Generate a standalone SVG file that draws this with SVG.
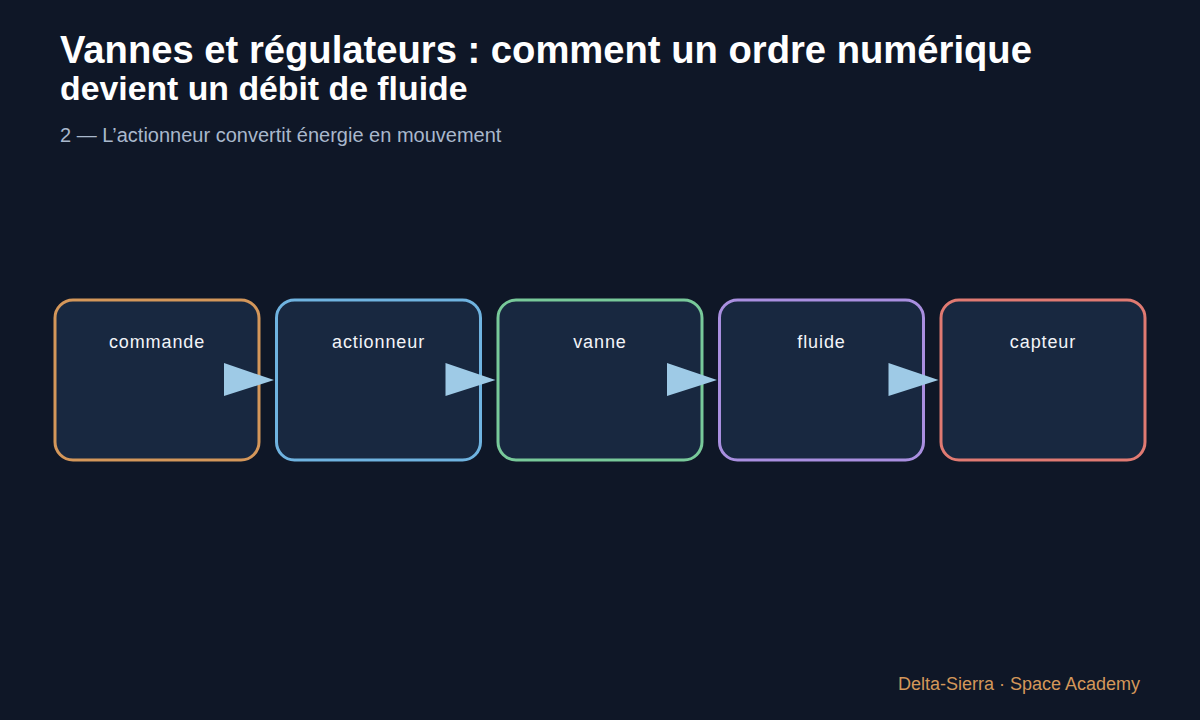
<svg xmlns="http://www.w3.org/2000/svg" width="1200" height="720" viewBox="0 0 1200 720">
<defs>
<style>
.bg{fill:#0f1727}
.title{font-family:"Liberation Sans",Arial,sans-serif;font-weight:bold;fill:#ffffff}
.sub{font-family:"Liberation Sans",Arial,sans-serif;font-size:20px;fill:#a9b8cc}
.foot{font-family:"Liberation Sans",Arial,sans-serif;font-size:18px;fill:#d4975a}
.box{fill:#182840;stroke-width:3}
.lbl{font-family:"Liberation Sans",Arial,sans-serif;font-size:18px;fill:#f2f4f8;text-anchor:middle;letter-spacing:0.9px}
.conn{stroke:#9ecae6;stroke-width:2}
.head{fill:#9ecae6}
</style>
</defs>
<rect class="bg" x="0" y="0" width="1200" height="720"/>
<text class="title" x="60" y="63" font-size="38.2">Vannes et régulateurs : comment un ordre numérique</text>
<text class="title" x="60" y="100" font-size="33.8">devient un débit de fluide</text>
<text class="sub" x="60" y="142">2 — L’actionneur convertit énergie en mouvement</text>
<g id="node-commande"><rect class="box" x="55" y="300" width="204" height="160" rx="18" stroke="#d4975a"/><text class="lbl" x="157" y="348">commande</text></g>
<g id="node-actionneur"><rect class="box" x="276.5" y="300" width="204" height="160" rx="18" stroke="#6fb3e0"/><text class="lbl" x="378.5" y="348">actionneur</text></g>
<g id="node-vanne"><rect class="box" x="498" y="300" width="204" height="160" rx="18" stroke="#78c99a"/><text class="lbl" x="600" y="348">vanne</text></g>
<g id="node-fluide"><rect class="box" x="719.5" y="300" width="204" height="160" rx="18" stroke="#a98fe0"/><text class="lbl" x="821.5" y="348">fluide</text></g>
<g id="node-capteur"><rect class="box" x="941" y="300" width="204" height="160" rx="18" stroke="#e07a72"/><text class="lbl" x="1043" y="348">capteur</text></g>
<g id="connectors">
<line class="conn" x1="250" y1="380" x2="270" y2="380"/><path class="head" d="M224,363 L274,380 L224,396 Z"/>
<line class="conn" x1="471" y1="380" x2="491" y2="380"/><path class="head" d="M445.5,363 L495.5,380 L445.5,396 Z"/>
<line class="conn" x1="693" y1="380" x2="713" y2="380"/><path class="head" d="M667,363 L717,380 L667,396 Z"/>
<line class="conn" x1="914" y1="380" x2="934" y2="380"/><path class="head" d="M888.5,363 L938.5,380 L888.5,396 Z"/>
</g>
<text class="foot" x="1140" y="690" text-anchor="end">Delta-Sierra · Space Academy</text>
</svg>
